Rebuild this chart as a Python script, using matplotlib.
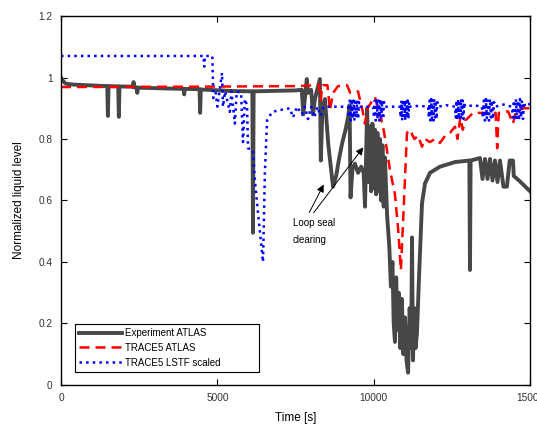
import numpy as np
import matplotlib
matplotlib.use("Agg")
import matplotlib.pyplot as plt

plt.rcParams['font.family'] = ['Liberation Sans', 'DejaVu Sans']

# --- data (time [s], normalized level) ---
exp_time = [0, 50, 150, 400, 800, 1480, 1500, 1520, 1830, 1850, 1870, 2300, 2320, 2340,
            2420, 2440, 2460, 3500, 3920, 3940, 3960, 4430, 4450, 4470, 5500, 6120, 6140,
            6160, 7500, 7700, 7750, 7860, 7900, 8000, 8060, 8120, 8280, 8310, 8360, 8440,
            8550, 8700, 8800, 8900, 9000, 9100, 9180, 9230, 9260, 9320, 9400, 9500, 9600,
            9680, 9722, 9790, 9840, 9880, 9920, 9960, 10000, 10040, 10080, 10120, 10160,
            10200, 10240, 10280, 10320, 10360, 10430, 10500, 10550, 10600, 10640, 10680,
            10720, 10760, 10800, 10850, 10900, 10950, 11000, 11050, 11100, 11150, 11200,
            11225, 11257, 11300, 11340, 11385, 11450, 11545, 11640, 11800, 12120, 12600,
            13060, 13080, 13100, 13400, 13480, 13560, 13640, 13720, 13800, 13880, 13960,
            14040, 14150, 14260, 14350, 14455, 14480, 14700, 15000]
exp_level = [1.0, 0.99, 0.98, 0.977, 0.975, 0.972, 0.875, 0.972, 0.971, 0.872, 0.971, 0.970,
             0.985, 0.968, 0.968, 0.95, 0.967, 0.964, 0.963, 0.945, 0.963, 0.962, 0.885,
             0.961, 0.956, 0.955, 0.495, 0.955, 0.958, 0.96, 0.88, 0.995, 0.95, 0.96, 0.88,
             0.93, 0.995, 0.73, 0.90, 0.93, 0.78, 0.645, 0.68, 0.74, 0.79, 0.83, 0.87, 0.91,
             0.61, 0.70, 0.72, 0.69, 0.71, 0.69, 0.58, 0.90, 0.66, 0.84, 0.63, 0.85, 0.64,
             0.83, 0.62, 0.82, 0.63, 0.80, 0.60, 0.78, 0.58, 0.74, 0.55, 0.45, 0.32, 0.40,
             0.20, 0.14, 0.35, 0.18, 0.30, 0.12, 0.28, 0.10, 0.22, 0.08, 0.04, 0.25, 0.12,
             0.48, 0.08, 0.25, 0.12, 0.17, 0.35, 0.59, 0.655, 0.69, 0.71, 0.725, 0.73, 0.374,
             0.73, 0.738, 0.67, 0.735, 0.67, 0.735, 0.665, 0.73, 0.66, 0.73, 0.645, 0.645,
             0.73, 0.73, 0.68, 0.66, 0.63]

trace_time = [0, 4000, 7500, 8200, 8250, 8310, 8360, 8520, 8600, 8700, 8860, 9150, 9250,
              9500, 9650, 9720, 9800, 10040, 10200, 10300, 10400, 10520, 10600, 10680,
              10780, 10870, 10970, 11065, 11160, 11300, 11420, 11545, 11640, 11800, 11960,
              12120, 12280, 12440, 12600, 12680, 12770, 12850, 12930, 13180, 13500, 13900,
              13950, 14000, 14300, 14455, 14550, 14800, 15000]
trace_level = [0.969, 0.97, 0.972, 0.975, 0.976, 0.927, 0.975, 0.975, 0.894, 0.95, 0.972,
               0.975, 0.95, 0.955, 0.89, 0.85, 0.90, 0.937, 0.88, 0.84, 0.78, 0.70, 0.66,
               0.62, 0.51, 0.374, 0.60, 0.82, 0.83, 0.80, 0.81, 0.775, 0.80, 0.79, 0.80,
               0.787, 0.81, 0.82, 0.84, 0.80, 0.87, 0.83, 0.86, 0.885, 0.885, 0.885, 0.77,
               0.885, 0.89, 0.85, 0.89, 0.90, 0.90]

lstf_time = [0, 4560, 4580, 4600, 4840, 4870, 4950, 5000, 5150, 5180, 5250, 5400, 5450,
             5560, 5620, 5760, 5820, 5880, 5950, 5980, 6140, 6200, 6300, 6460, 6520, 6590,
             6750, 7000, 7320, 7420, 7550, 7700, 7800, 7900, 8000, 8100, 8200, 8300, 8400,
             9700, 10600, 11450, 12330, 13200, 14150, 15000]
lstf_level = [1.07, 1.07, 1.035, 1.07, 1.07, 0.933, 0.95, 0.905, 1.015, 0.905, 0.955, 0.888,
              0.955, 0.85, 0.955, 0.95, 0.79, 0.93, 0.91, 0.77, 0.764, 0.667, 0.56, 0.40,
              0.69, 0.86, 0.888, 0.894, 0.90, 0.87, 0.905, 0.88, 0.905, 0.865, 0.905, 0.87,
              0.905, 0.875, 0.905, 0.905, 0.905, 0.908, 0.91, 0.91, 0.912, 0.915]

# oscillation bursts of the LSTF curve
burst_start = [9180, 9980, 10840, 11740, 12600, 13460, 14420]
burst_end = [9560, 10360, 11160, 12060, 12920, 13880, 14840]
burst_shape = [0.905, 0.87, 0.925, 0.86, 0.93, 0.865, 0.925, 0.86, 0.93, 0.87, 0.925,
               0.865, 0.92, 0.905]

xticks = [0, 5000, 10000, 15000]
yticks = [0, 0.2, 0.4, 0.6, 0.8, 1.0, 1.2]
ytick_labels = ["0", "0.2", "0.4", "0.6", "0.8", "1", "1.2"]

# merge bursts into LSTF series
bt, bv = list(lstf_time), list(lstf_level)
for s, e in zip(burst_start, burst_end):
    bt += list(np.linspace(s, e, len(burst_shape)))
    bv += burst_shape
order = np.argsort(bt)
lstf_t = np.array(bt)[order]
lstf_v = np.array(bv)[order]

fig = plt.figure(figsize=(5.37, 4.28), dpi=100)
ax = fig.add_axes([0.1136, 0.1005, 0.8734, 0.8621])

ax.plot(exp_time, exp_level, color='#474747', lw=2.8, label='Experiment ATLAS')
ax.plot(trace_time, trace_level, color='#ff0000', lw=1.8, dashes=(4, 2.4),
        label='TRACE5 ATLAS')
ax.plot(lstf_t, lstf_v, color='#0000ff', lw=1.8, ls=':', label='TRACE5 LSTF scaled')

# annotation
ax.annotate('', xy=(8443, 0.66), xytext=(7900, 0.553),
            arrowprops=dict(arrowstyle='-|>', color='black', lw=0.7, mutation_scale=11))
ax.annotate('', xy=(9722, 0.78), xytext=(8027, 0.553),
            arrowprops=dict(arrowstyle='-|>', color='black', lw=0.7, mutation_scale=11))
ax.text(7420, 0.527, 'Loop seal', fontsize=7, va='center', ha='left')
ax.text(7420, 0.472, 'clearing', fontsize=7, va='center', ha='left')

ax.set_xlim(0, 15000)
ax.set_ylim(0, 1.2)
ax.set_xticks(xticks)
ax.set_xticklabels([str(t) for t in xticks])
ax.set_yticks(yticks)
ax.set_yticklabels(ytick_labels)
ax.tick_params(direction='in', top=True, right=True, length=4, width=0.8,
               labelsize=7.3, pad=6, labelcolor='#333333')
for sp in ax.spines.values():
    sp.set_linewidth(1.0)

ax.set_xlabel('Time [s]', fontsize=8.5, labelpad=6)
ax.set_ylabel('Normalized liquid level', fontsize=8.5, labelpad=10)

leg = ax.legend(loc='lower left', bbox_to_anchor=(0.03, 0.035, 0.392, 0.127),
                mode='expand', borderaxespad=0, fontsize=7, handlelength=4.4,
                labelspacing=0.5, handletextpad=0.3, fancybox=False, framealpha=1,
                edgecolor='black', borderpad=0.45)
leg.get_frame().set_linewidth(0.8)

fig.savefig('out.png', dpi=100)
